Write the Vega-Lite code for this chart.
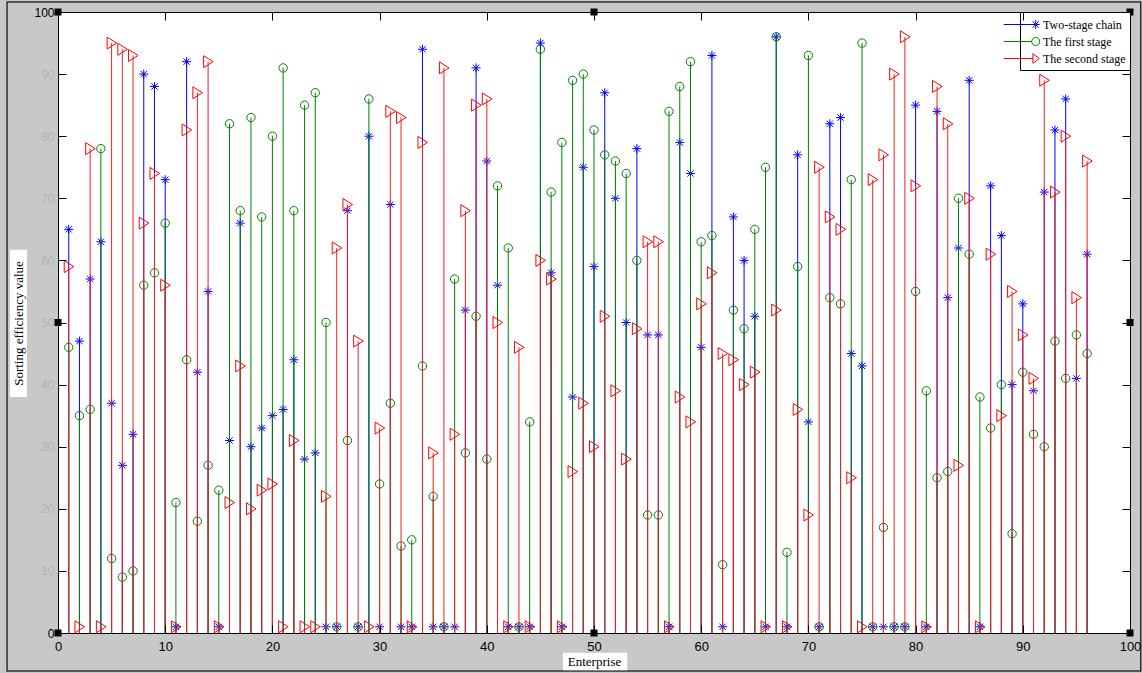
{
  "$schema": "https://vega.github.io/schema/vega-lite/v6.json",
  "width": 1072,
  "height": 621,
  "autosize": {"type": "none"},
  "padding": {"left": 58, "top": 12, "right": 12, "bottom": 40},
  "background": "#c8c8c8",
  "config": {
    "view": {"fill": "white", "stroke": "black", "strokeWidth": 1},
    "axis": {"grid": false, "domain": false}
  },
  "datasets": {
    "eff": [
      {"e":1,"Two-stage chain":65,"The first stage":46,"The second stage":59},
      {"e":2,"Two-stage chain":47,"The first stage":35,"The second stage":1},
      {"e":3,"Two-stage chain":57,"The first stage":36,"The second stage":78},
      {"e":4,"Two-stage chain":63,"The first stage":78,"The second stage":1},
      {"e":5,"Two-stage chain":37,"The first stage":12,"The second stage":95},
      {"e":6,"Two-stage chain":27,"The first stage":9,"The second stage":94},
      {"e":7,"Two-stage chain":32,"The first stage":10,"The second stage":93},
      {"e":8,"Two-stage chain":90,"The first stage":56,"The second stage":66},
      {"e":9,"Two-stage chain":88,"The first stage":58,"The second stage":74},
      {"e":10,"Two-stage chain":73,"The first stage":66,"The second stage":56},
      {"e":11,"Two-stage chain":1,"The first stage":21,"The second stage":1},
      {"e":12,"Two-stage chain":92,"The first stage":44,"The second stage":81},
      {"e":13,"Two-stage chain":42,"The first stage":18,"The second stage":87},
      {"e":14,"Two-stage chain":55,"The first stage":27,"The second stage":92},
      {"e":15,"Two-stage chain":1,"The first stage":23,"The second stage":1},
      {"e":16,"Two-stage chain":31,"The first stage":82,"The second stage":21},
      {"e":17,"Two-stage chain":66,"The first stage":68,"The second stage":43},
      {"e":18,"Two-stage chain":30,"The first stage":83,"The second stage":20},
      {"e":19,"Two-stage chain":33,"The first stage":67,"The second stage":23},
      {"e":20,"Two-stage chain":35,"The first stage":80,"The second stage":24},
      {"e":21,"Two-stage chain":36,"The first stage":91,"The second stage":1},
      {"e":22,"Two-stage chain":44,"The first stage":68,"The second stage":31},
      {"e":23,"Two-stage chain":28,"The first stage":85,"The second stage":1},
      {"e":24,"Two-stage chain":29,"The first stage":87,"The second stage":1},
      {"e":25,"Two-stage chain":1,"The first stage":50,"The second stage":22},
      {"e":26,"Two-stage chain":1,"The first stage":1,"The second stage":62},
      {"e":27,"Two-stage chain":68,"The first stage":31,"The second stage":69},
      {"e":28,"Two-stage chain":1,"The first stage":1,"The second stage":47},
      {"e":29,"Two-stage chain":80,"The first stage":86,"The second stage":1},
      {"e":30,"Two-stage chain":1,"The first stage":24,"The second stage":33},
      {"e":31,"Two-stage chain":69,"The first stage":37,"The second stage":84},
      {"e":32,"Two-stage chain":1,"The first stage":14,"The second stage":83},
      {"e":33,"Two-stage chain":1,"The first stage":15,"The second stage":1},
      {"e":34,"Two-stage chain":94,"The first stage":43,"The second stage":79},
      {"e":35,"Two-stage chain":1,"The first stage":22,"The second stage":29},
      {"e":36,"Two-stage chain":1,"The first stage":1,"The second stage":91},
      {"e":37,"Two-stage chain":1,"The first stage":57,"The second stage":32},
      {"e":38,"Two-stage chain":52,"The first stage":29,"The second stage":68},
      {"e":39,"Two-stage chain":91,"The first stage":51,"The second stage":85},
      {"e":40,"Two-stage chain":76,"The first stage":28,"The second stage":86},
      {"e":41,"Two-stage chain":56,"The first stage":72,"The second stage":50},
      {"e":42,"Two-stage chain":1,"The first stage":62,"The second stage":1},
      {"e":43,"Two-stage chain":1,"The first stage":1,"The second stage":46},
      {"e":44,"Two-stage chain":1,"The first stage":34,"The second stage":1},
      {"e":45,"Two-stage chain":95,"The first stage":94,"The second stage":60},
      {"e":46,"Two-stage chain":58,"The first stage":71,"The second stage":57},
      {"e":47,"Two-stage chain":1,"The first stage":79,"The second stage":1},
      {"e":48,"Two-stage chain":38,"The first stage":89,"The second stage":26},
      {"e":49,"Two-stage chain":75,"The first stage":90,"The second stage":37},
      {"e":50,"Two-stage chain":59,"The first stage":81,"The second stage":30},
      {"e":51,"Two-stage chain":87,"The first stage":77,"The second stage":51},
      {"e":52,"Two-stage chain":70,"The first stage":76,"The second stage":39},
      {"e":53,"Two-stage chain":50,"The first stage":74,"The second stage":28},
      {"e":54,"Two-stage chain":78,"The first stage":60,"The second stage":49},
      {"e":55,"Two-stage chain":48,"The first stage":19,"The second stage":63},
      {"e":56,"Two-stage chain":48,"The first stage":19,"The second stage":63},
      {"e":57,"Two-stage chain":1,"The first stage":84,"The second stage":1},
      {"e":58,"Two-stage chain":79,"The first stage":88,"The second stage":38},
      {"e":59,"Two-stage chain":74,"The first stage":92,"The second stage":34},
      {"e":60,"Two-stage chain":46,"The first stage":63,"The second stage":53},
      {"e":61,"Two-stage chain":93,"The first stage":64,"The second stage":58},
      {"e":62,"Two-stage chain":1,"The first stage":11,"The second stage":45},
      {"e":63,"Two-stage chain":67,"The first stage":52,"The second stage":44},
      {"e":64,"Two-stage chain":60,"The first stage":49,"The second stage":40},
      {"e":65,"Two-stage chain":51,"The first stage":65,"The second stage":42},
      {"e":66,"Two-stage chain":1,"The first stage":75,"The second stage":1},
      {"e":67,"Two-stage chain":96,"The first stage":96,"The second stage":52},
      {"e":68,"Two-stage chain":1,"The first stage":13,"The second stage":1},
      {"e":69,"Two-stage chain":77,"The first stage":59,"The second stage":36},
      {"e":70,"Two-stage chain":34,"The first stage":93,"The second stage":19},
      {"e":71,"Two-stage chain":1,"The first stage":1,"The second stage":75},
      {"e":72,"Two-stage chain":82,"The first stage":54,"The second stage":67},
      {"e":73,"Two-stage chain":83,"The first stage":53,"The second stage":65},
      {"e":74,"Two-stage chain":45,"The first stage":73,"The second stage":25},
      {"e":75,"Two-stage chain":43,"The first stage":95,"The second stage":1},
      {"e":76,"Two-stage chain":1,"The first stage":1,"The second stage":73},
      {"e":77,"Two-stage chain":1,"The first stage":17,"The second stage":77},
      {"e":78,"Two-stage chain":1,"The first stage":1,"The second stage":90},
      {"e":79,"Two-stage chain":1,"The first stage":1,"The second stage":96},
      {"e":80,"Two-stage chain":85,"The first stage":55,"The second stage":72},
      {"e":81,"Two-stage chain":1,"The first stage":39,"The second stage":1},
      {"e":82,"Two-stage chain":84,"The first stage":25,"The second stage":88},
      {"e":83,"Two-stage chain":54,"The first stage":26,"The second stage":82},
      {"e":84,"Two-stage chain":62,"The first stage":70,"The second stage":27},
      {"e":85,"Two-stage chain":89,"The first stage":61,"The second stage":70},
      {"e":86,"Two-stage chain":1,"The first stage":38,"The second stage":1},
      {"e":87,"Two-stage chain":72,"The first stage":33,"The second stage":61},
      {"e":88,"Two-stage chain":64,"The first stage":40,"The second stage":35},
      {"e":89,"Two-stage chain":40,"The first stage":16,"The second stage":55},
      {"e":90,"Two-stage chain":53,"The first stage":42,"The second stage":48},
      {"e":91,"Two-stage chain":39,"The first stage":32,"The second stage":41},
      {"e":92,"Two-stage chain":71,"The first stage":30,"The second stage":89},
      {"e":93,"Two-stage chain":81,"The first stage":47,"The second stage":71},
      {"e":94,"Two-stage chain":86,"The first stage":41,"The second stage":80},
      {"e":95,"Two-stage chain":41,"The first stage":48,"The second stage":54},
      {"e":96,"Two-stage chain":61,"The first stage":45,"The second stage":76}
    ],
    "handles": [
      {"hx":0,"hy":0},{"hx":50,"hy":0},{"hx":100,"hy":0},
      {"hx":0,"hy":50},{"hx":100,"hy":50},
      {"hx":0,"hy":100},{"hx":50,"hy":100},{"hx":100,"hy":100}
    ]
  },
  "data": {"name": "eff"},
  "transform": [
    {"fold": ["Two-stage chain", "The first stage", "The second stage"], "as": ["series", "value"]}
  ],
  "resolve": {"axis": {"x": "independent", "y": "independent"}},
  "layer": [
    {
      "data": {"values": [{}]},
      "mark": {"type": "rect", "fill": null, "fillOpacity": 0, "stroke": "#303030", "strokeWidth": 1.5},
      "encoding": {
        "x": {"datum": -4.75, "type": "quantitative", "axis": null},
        "x2": {"datum": 101.0},
        "y": {"datum": 101.6, "type": "quantitative", "axis": null},
        "y2": {"datum": -6.1}
      }
    },
    {
      "data": {"values": [{}]},
      "mark": {"type": "rect", "fill": "white"},
      "encoding": {
        "x": {"datum": 47.1, "type": "quantitative", "axis": null},
        "x2": {"datum": 53.1},
        "y": {"datum": -3.2, "type": "quantitative", "axis": null},
        "y2": {"datum": -6.0}
      }
    },
    {
      "data": {"values": [{}]},
      "mark": {"type": "rect", "fill": "white"},
      "encoding": {
        "x": {"datum": -4.48, "type": "quantitative", "axis": null},
        "x2": {"datum": -2.89},
        "y": {"datum": 61.7, "type": "quantitative", "axis": null},
        "y2": {"datum": 38.0}
      }
    },
    {
      "transform": [{"filter": {"field": "series", "equal": "Two-stage chain"}}],
      "mark": {"type": "rule", "color": "#0000ff", "strokeWidth": 1},
      "encoding": {
        "x": {
          "field": "e", "type": "quantitative",
          "scale": {"domain": [0, 100], "nice": false, "zero": false},
          "axis": {
            "orient": "bottom", "values": [0,10,20,30,40,50,60,70,80,90,100],
            "tickSize": -8, "tickColor": "black", "labelPadding": 15,
            "labelFont": "Liberation Sans", "labelFontSize": 13, "labelColor": "black", "labelFlush": false,
            "title": "Enterprise", "titleFont": "Liberation Serif", "titleFontSize": 13,
            "titleFontWeight": "normal", "titleColor": "black",
            "titleX": 536, "titleY": 28, "titleBaseline": "middle", "titleAlign": "center",
            "zindex": 1
          }
        },
        "y": {
          "field": "value", "type": "quantitative",
          "scale": {"domain": [0, 100], "nice": false, "zero": false},
          "axis": {
            "orient": "left", "values": [0,10,20,30,40,50,60,70,80,90,100],
            "tickSize": -8, "tickColor": "black", "labelPadding": 12,
            "labelFont": "Liberation Sans", "labelFontSize": 12,
            "labelColor": {"condition": {"test": "datum.value == 0 || datum.value == 100", "value": "black"}, "value": "#b2b2bc"},
            "labelFlush": false,
            "title": "Sorting efficiency value", "titleFont": "Liberation Serif", "titleFontSize": 13,
            "titleFontWeight": "normal", "titleColor": "black",
            "titleX": -40, "titleY": 311, "titleBaseline": "middle", "titleAlign": "center", "titleAngle": -90,
            "zindex": 1
          }
        },
        "y2": {"datum": 0}
      }
    },
    {
      "transform": [{"filter": {"field": "series", "equal": "Two-stage chain"}}],
      "mark": {"type": "point", "shape": "M-1,0H1M0,-1V1M-0.7,-0.7L0.7,0.7M-0.7,0.7L0.7,-0.7", "filled": false, "color": "#0000ff", "size": 81, "strokeWidth": 1, "opacity": 1},
      "encoding": {
        "x": {
          "field": "e", "type": "quantitative",
          "axis": {"orient": "top", "values": [0,10,20,30,40,50,60,70,80,90,100], "labels": false, "title": null, "tickSize": -8, "tickColor": "black", "zindex": 1}
        },
        "y": {
          "field": "value", "type": "quantitative",
          "axis": {"orient": "right", "values": [0,10,20,30,40,50,60,70,80,90,100], "labels": false, "title": null, "tickSize": -8, "tickColor": "black", "zindex": 1}
        }
      }
    },
    {
      "transform": [{"filter": {"field": "series", "equal": "The first stage"}}],
      "mark": {"type": "rule", "color": "#008000", "strokeWidth": 1},
      "encoding": {
        "x": {"field": "e", "type": "quantitative", "axis": null},
        "y": {"field": "value", "type": "quantitative", "axis": null},
        "y2": {"datum": 0}
      }
    },
    {
      "transform": [{"filter": {"field": "series", "equal": "The first stage"}}],
      "mark": {"type": "point", "shape": "circle", "filled": false, "color": "#008000", "size": 70, "strokeWidth": 1, "opacity": 1},
      "encoding": {
        "x": {"field": "e", "type": "quantitative", "axis": null},
        "y": {"field": "value", "type": "quantitative", "axis": null}
      }
    },
    {
      "transform": [{"filter": {"field": "series", "equal": "The second stage"}}],
      "mark": {"type": "rule", "color": "#f02020", "strokeWidth": 1},
      "encoding": {
        "x": {"field": "e", "type": "quantitative", "axis": null},
        "y": {"field": "value", "type": "quantitative", "axis": null},
        "y2": {"datum": 0}
      }
    },
    {
      "transform": [{"filter": {"field": "series", "equal": "The second stage"}}],
      "mark": {"type": "point", "shape": "M-0.75,-1L0.85,0L-0.75,1Z", "filled": false, "color": "#ff0000", "size": 144, "strokeWidth": 1, "opacity": 1},
      "encoding": {
        "x": {"field": "e", "type": "quantitative", "axis": null},
        "y": {"field": "value", "type": "quantitative", "axis": null}
      }
    },
    {
      "mark": {"type": "point", "filled": false, "opacity": 0},
      "encoding": {
        "x": {"field": "e", "type": "quantitative", "axis": null},
        "y": {"field": "value", "type": "quantitative", "axis": null},
        "color": {
          "field": "series", "type": "nominal",
          "scale": {"domain": ["Two-stage chain", "The first stage", "The second stage"], "range": ["#0000ff", "#008000", "#ff0000"]},
          "legend": {
            "orient": "top-right", "offset": 0, "title": null,
            "fillColor": "white", "strokeColor": "black", "padding": 4,
            "labelFont": "Liberation Serif", "labelFontSize": 12, "labelColor": "black", "labelOffset": 2,
            "symbolSize": 256, "symbolStrokeWidth": 1, "symbolOpacity": 1, "rowPadding": 2
          }
        },
        "shape": {
          "field": "series", "type": "nominal",
          "scale": {
            "domain": ["Two-stage chain", "The first stage", "The second stage"],
            "range": [
              "M-3.6,0H0.9M0.4,-0.55V0.55M0.02,-0.4L0.78,0.4M0.02,0.4L0.78,-0.4",
              "M-3.6,0H-0.1M-0.1,0A0.5,0.5 0 1,0 0.9,0A0.5,0.5 0 1,0 -0.1,0",
              "M-3.6,0H0.05M0.05,-0.6L0.85,0L0.05,0.6Z"
            ]
          },
          "legend": {
            "orient": "top-right", "offset": 0, "title": null,
            "fillColor": "white", "strokeColor": "black", "padding": 4,
            "labelFont": "Liberation Serif", "labelFontSize": 12, "labelColor": "black", "labelOffset": 2,
            "symbolSize": 256, "symbolStrokeWidth": 1, "symbolOpacity": 1, "rowPadding": 2
          }
        }
      }
    },
    {
      "data": {"name": "handles"},
      "mark": {"type": "point", "shape": "square", "filled": true, "color": "black", "size": 49, "opacity": 1},
      "encoding": {
        "x": {"field": "hx", "type": "quantitative", "axis": null},
        "y": {"field": "hy", "type": "quantitative", "axis": null}
      }
    }
  ]
}
